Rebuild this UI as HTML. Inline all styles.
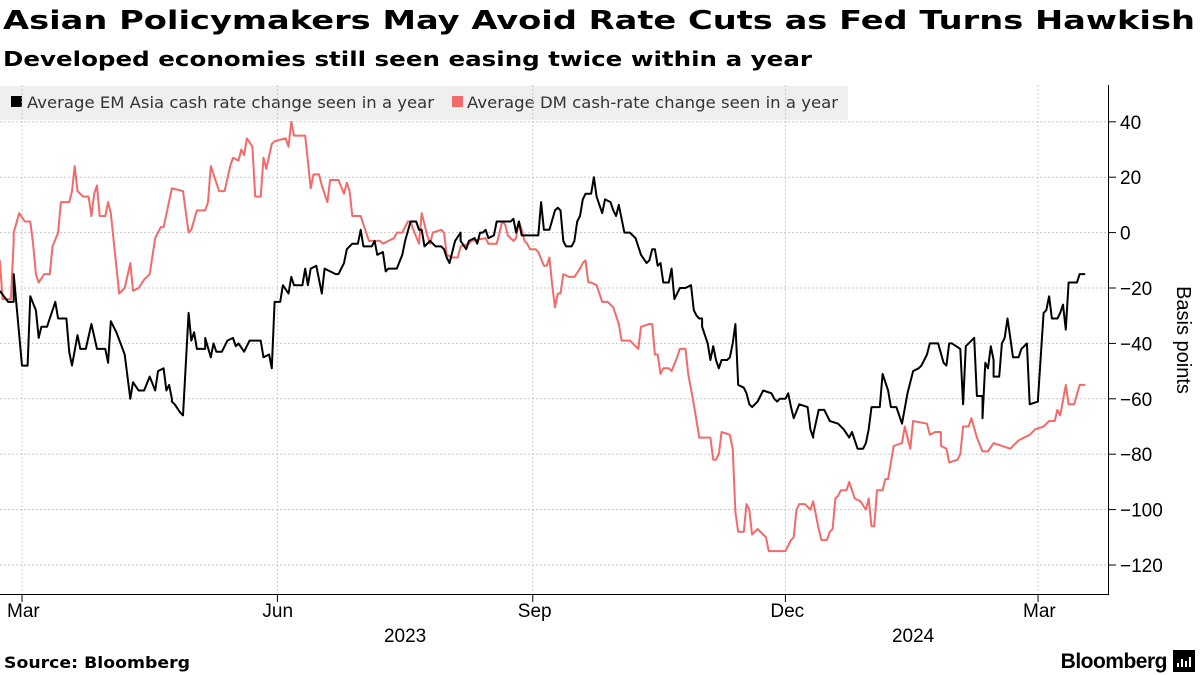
<!DOCTYPE html>
<html><head><meta charset="utf-8">
<style>
body{margin:0;width:1200px;height:675px;background:#fff;font-family:"Liberation Sans",sans-serif;overflow:hidden;position:relative}
</style></head>
<body>
<svg id="chart" width="1200" height="675" style="position:absolute;left:0;top:0">
  <text x="3" y="29" font-size="26" font-weight="bold" fill="#000" font-family="DejaVu Sans, Liberation Sans, sans-serif" textLength="1192" lengthAdjust="spacingAndGlyphs">Asian Policymakers May Avoid Rate Cuts as Fed Turns Hawkish</text>
  <text x="3" y="66" font-size="20" font-weight="bold" fill="#000" font-family="DejaVu Sans, Liberation Sans, sans-serif" textLength="809" lengthAdjust="spacingAndGlyphs">Developed economies still seen easing twice within a year</text>
  <rect x="0" y="86" width="848" height="34" fill="#efefef"/>
  <rect x="11" y="96" width="11" height="11" fill="#000"/>
  <text x="27" y="108" font-size="16" fill="#333" font-family="DejaVu Sans, Liberation Sans, sans-serif" textLength="407" lengthAdjust="spacingAndGlyphs">Average EM Asia cash rate change seen in a year</text>
  <rect x="452" y="96" width="11" height="11" fill="#f26a6a"/>
  <text x="467" y="108" font-size="16" fill="#333" font-family="DejaVu Sans, Liberation Sans, sans-serif" textLength="371" lengthAdjust="spacingAndGlyphs">Average DM cash-rate change seen in a year</text>
  <g id="grid"></g>
  <g id="axes"></g>
  <g id="series"></g>
  <text transform="translate(1177,340) rotate(90)" text-anchor="middle" font-size="20" fill="#000" font-family="Liberation Sans">Basis points</text>
  <text x="4" y="668" font-size="16" font-weight="bold" fill="#000" font-family="DejaVu Sans, Liberation Sans, sans-serif" textLength="186" lengthAdjust="spacingAndGlyphs">Source: Bloomberg</text>
  <text x="1167" y="668" text-anchor="end" font-size="21" font-weight="bold" fill="#000" font-family="Liberation Sans" letter-spacing="-0.5">Bloomberg</text>
  <rect x="1173" y="650" width="22" height="22" fill="#000"/>
  <path d="M1178 667v-4M1182 667v-8M1186 667v-6M1190 667v-10" stroke="#fff" stroke-width="2"/>
</svg>
<script>
const yTicks=[40,20,0,-20,-40,-60,-80,-100,-120];
const monthTicks=[0,92,184,275,366];
const monthLabels=["Mar","Jun","Sep","Dec","Mar"];
const yearLabels=["2023","2024"];
const yearLabelDays=[138,321];
const emDays=[-8,-5,-3,-3,0,2,3,5,6,7,9,12,13,16,17,18,20,21,23,25,27,30,31,32,34,37,39,40,42,44,46,48,49,51,52,53,54,54,55,57,58,60,61,62,63,66,66,68,69,70,72,74,76,77,78,80,82,86,87,89,90,91,93,94,96,97,98,101,102,103,104,106,108,109,113,114,116,117,119,121,122,123,126,127,128,130,131,132,134,135,137,138,140,142,143,144,145,147,149,151,152,153,154,156,158,158,160,161,163,164,165,166,167,168,170,171,176,177,178,179,180,186,187,188,190,192,193,194,195,196,198,199,200,201,202,203,205,206,207,208,209,210,212,213,214,215,217,219,221,223,225,226,227,228,229,230,231,233,234,235,237,239,241,242,243,244,245,245,247,248,249,250,251,252,254,255,256,257,258,260,261,262,263,265,266,267,270,271,272,273,275,276,277,278,280,283,284,285,285,287,289,291,294,296,298,299,300,301,303,304,305,306,309,310,312,313,315,316,317,319,321,323,324,326,327,330,332,333,334,335,338,339,340,341,343,344,346,346,347,348,349,350,350,352,353,354,355,356,357,359,360,362,363,366,366,368,369,370,371,373,374,375,376,377,380,381,383];
const emValues=[-21,-25,-25,-15,-48,-48,-23,-28,-38,-34,-34,-25,-31,-31,-43,-48,-37,-42,-42,-33,-42,-42,-47,-32,-36,-44,-60,-54,-57,-57,-52,-57,-50,-49,-57,-55,-60,-61,-62,-65,-66,-29,-39,-36,-42,-42,-38,-45,-40,-43,-43,-39,-38,-41,-40,-43,-39,-39,-45,-44,-49,-25,-25,-19,-22,-16,-19,-19,-13,-19,-13,-12,-22,-13,-15,-15,-11,-6,-4,-4,1,-5,-5,-3,-8,-7,-14,-13,-13,-13,-8,-3,4,4,1,1,-5,-3,-5,-5,-6,-9,-11,-3,0,-3,-6,-3,-2,-4,0,0,1,-2,-1,4,4,5,0,4,-1,-1,11,1,1,8,9,8,-3,-5,-5,-3,4,6,12,14,14,20,13,10,7,12,11,8,6,10,0,0,-2,-8,-11,-10,-6,-6,-12,-11,-18,-18,-13,-24,-20,-20,-19,-28,-30,-31,-31,-34,-40,-46,-41,-46,-49,-46,-46,-45,-40,-33,-55,-56,-58,-62,-63,-61,-59,-57,-58,-60,-61,-60,-60,-58,-63,-67,-62,-63,-71,-74,-73,-64,-64,-68,-69,-71,-74,-72,-75,-78,-78,-76,-71,-63,-63,-51,-57,-63,-63,-66,-69,-58,-50,-49,-48,-44,-40,-40,-47,-48,-40,-40,-42,-62,-41,-40,-38,-59,-59,-67,-47,-49,-41,-46,-52,-52,-40,-38,-31,-38,-45,-45,-42,-40,-62,-61,-60,-29,-28,-23,-31,-31,-29,-26,-35,-18,-18,-15,-15];
const dmDays=[-8,-7,-4,-3,-3,-1,1,3,4,5,6,8,10,11,13,14,17,18,19,20,22,24,25,26,27,28,30,31,32,35,37,39,40,42,44,46,48,50,51,54,58,60,61,63,66,67,68,71,73,75,76,78,79,80,81,83,84,86,87,88,90,91,95,96,97,98,102,104,105,107,108,110,111,114,116,117,118,119,122,123,125,129,130,134,135,137,139,140,141,143,144,144,146,147,148,151,152,153,155,157,158,161,162,167,168,171,172,173,174,175,177,178,179,180,181,182,183,185,186,188,189,190,191,192,193,194,195,197,199,201,202,203,204,205,207,208,209,211,213,215,216,219,222,223,226,227,228,229,230,231,233,234,236,237,239,240,242,244,248,249,250,251,252,255,256,257,258,260,261,262,263,265,268,269,275,277,278,279,280,282,284,285,287,288,290,291,292,293,294,295,297,298,300,302,304,305,306,307,308,310,311,312,313,314,317,318,319,320,321,326,327,329,331,331,333,334,337,338,339,341,342,344,346,348,350,353,356,357,359,363,365,368,370,372,373,374,376,377,379,381,383];
const dmValues=[-10,-24,-24,-3,0,7,4,4,-4,-15,-18,-15,-15,-5,0,11,11,15,24,15,13,13,6,14,17,6,6,11,7,-22,-20,-11,-21,-20,-17,-15,-2,2,2,16,15,0,1,8,8,11,24,15,15,24,27,26,30,28,34,31,13,13,27,23,32,33,34,31,40,35,35,16,21,21,17,11,19,19,14,18,15,6,6,3,-3,-3,-4,-2,0,0,4,4,1,-4,7,7,-1,-4,0,1,0,-8,-9,-9,-5,-4,-3,-2,-4,-4,0,4,3,-1,-3,-2,4,1,-3,-4,-6,-6,-7,-12,-12,-9,-19,-27,-22,-22,-15,-16,-16,-13,-11,-10,-18,-18,-19,-22,-25,-25,-27,-33,-39,-39,-42,-34,-33,-33,-44,-44,-51,-49,-49,-50,-45,-42,-42,-51,-62,-74,-74,-82,-82,-80,-72,-73,-78,-101,-108,-108,-98,-100,-109,-107,-110,-115,-115,-111,-110,-100,-98,-98,-100,-97,-107,-111,-111,-108,-107,-96,-95,-93,-93,-90,-96,-97,-100,-96,-106,-106,-93,-93,-89,-89,-83,-77,-76,-70,-74,-78,-68,-69,-73,-72,-72,-77,-78,-83,-82,-80,-70,-70,-67,-74,-79,-79,-76,-77,-78,-77,-75,-73,-71,-70,-68,-68,-64,-66,-55,-62,-62,-55,-55];

const NS="http://www.w3.org/2000/svg";
const xScale=d=>22+d*2.776;
const yScale=v=>232.6-v*2.77;
const grid=document.getElementById('grid'),axes=document.getElementById('axes'),series=document.getElementById('series');
function mk(tag,attrs,parent){const e=document.createElementNS(NS,tag);for(const k in attrs)e.setAttribute(k,attrs[k]);parent.appendChild(e);return e;}

yTicks.forEach(v=>{
  const y=yScale(v);
  const g=mk('line',{x1:0,x2:1108,y1:y,y2:y,stroke:'#c8c8c8','stroke-dasharray':'2,2','stroke-width':1},grid);
  
  
  const t=mk('line',{x1:1108,x2:1116,y1:y,y2:y,stroke:'#000'},axes);
  
  
  const l=mk('text',{x:1120,y:y+7,'font-size':19,fill:'#000','font-family':'Liberation Sans'},axes);
  l.textContent=(v<0?'\u2212':'')+Math.abs(v);
  
  
});
const ya=mk('line',{x1:1108.5,x2:1108.5,y1:85,y2:595,stroke:'#000'},axes);


const xa=mk('line',{x1:0,x2:1108,y1:594.5,y2:594.5,stroke:'#000'},axes);


monthTicks.forEach((d,i)=>{
  const x=xScale(d);
  const g=mk('line',{x1:x,x2:x,y1:85,y2:594,stroke:'#c8c8c8','stroke-dasharray':'2,2'},grid);
  
  
  const t=mk('line',{x1:x,x2:x,y1:594,y2:602,stroke:'#000'},axes);
  
  
  const l=mk('text',{x:x-15,y:617,'font-size':19,fill:'#000','font-family':'Liberation Sans'},axes);
  l.textContent=monthLabels[i];
  
  
});
yearLabels.forEach((s,i)=>{
  const l=mk('text',{x:xScale(yearLabelDays[i]),y:642,'font-size':19,fill:'#000','text-anchor':'middle','font-family':'Liberation Sans'},axes);
  l.textContent=s;
  
  
});
function line(days,vals,color,name){
  const d=days.map((dd,i)=>(i?'L':'M')+xScale(dd).toFixed(1)+' '+yScale(vals[i]).toFixed(1)).join('');
  const p=mk('path',{d:d,fill:'none',stroke:color,'stroke-width':2,'stroke-linejoin':'round'},series);
  
  
}
line(dmDays,dmValues,'#f26a6a','dm-series-line');
line(emDays,emValues,'#000','em-series-line');
</script>
</body></html>
